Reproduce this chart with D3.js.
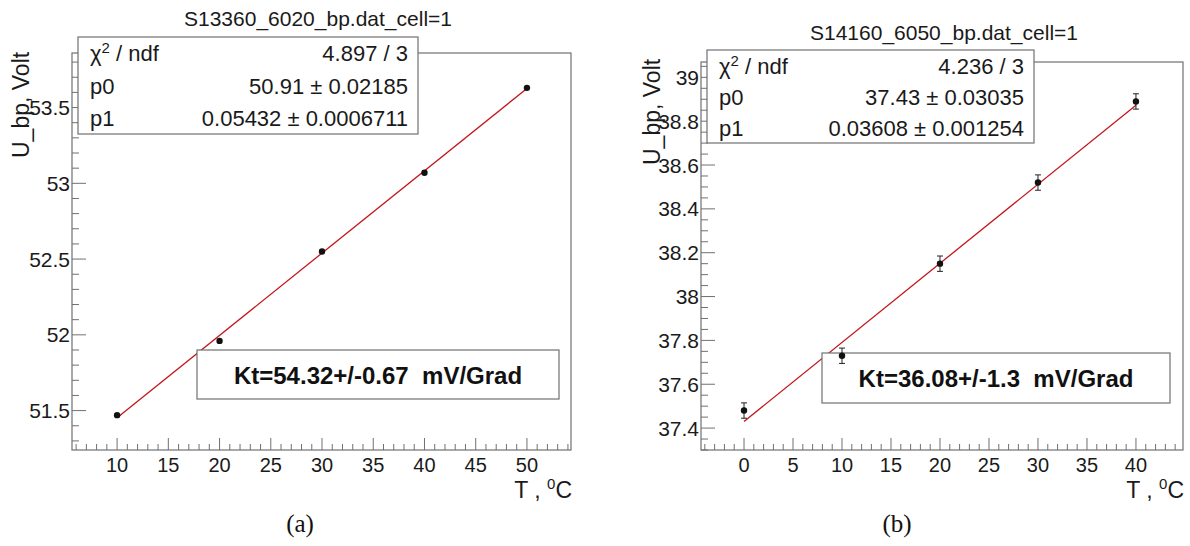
<!DOCTYPE html>
<html>
<head>
<meta charset="utf-8">
<script src="https://cdn.jsdelivr.net/npm/d3@7"></script>
<style>
  body { margin: 0; background: #fff; }
  svg { display: block; font-family: "Liberation Sans", Arial, sans-serif; }
</style>
</head>
<body>
<svg id="chart" width="1190" height="546"></svg>
<script>
// panel (a)
const titleA = "S13360_6020_bp.dat_cell=1"
const tempA = [10, 20, 30, 40, 50]
const voltA = [51.47, 51.96, 52.55, 53.07, 53.63]
const errA = [0.004, 0.004, 0.004, 0.004, 0.004]
const fitA = [50.91, 0.05432]
const statsA = [["χ", "4.897 / 3"], ["p0", "50.91 ± 0.02185"], ["p1", "0.05432 ± 0.0006711"]]
const ktA = "Kt=54.32+/-0.67  mV/Grad"
const xTicksA = [10, 15, 20, 25, 30, 35, 40, 45, 50]
const yTicksA = [51.5, 52, 52.5, 53, 53.5]

// panel (b)
const titleB = "S14160_6050_bp.dat_cell=1"
const tempB = [0, 10, 20, 30, 40]
const voltB = [37.48, 37.73, 38.15, 38.52, 38.89]
const errB = [0.035, 0.035, 0.035, 0.035, 0.035]
const fitB = [37.43, 0.03608]
const statsB = [["χ", "4.236 / 3"], ["p0", "37.43 ± 0.03035"], ["p1", "0.03608 ± 0.001254"]]
const ktB = "Kt=36.08+/-1.3  mV/Grad"
const xTicksB = [0, 5, 10, 15, 20, 25, 30, 35, 40]
const yTicksB = [37.4, 37.6, 37.8, 38, 38.2, 38.4, 38.6, 38.8, 39]

const svg = d3.select("#chart")
const axisColor = "#707070"
const textColor = "#1a1a1a"

function drawPanel(o) {
  const g = svg.append("g")
  const x = d3.scaleLinear().domain(o.xDomain).range([o.left, o.right])
  const y = d3.scaleLinear().domain(o.yDomain).range([o.bottom, o.top])

  // frame
  g.append("rect")
    .attr("x", o.left).attr("y", o.top)
    .attr("width", o.right - o.left).attr("height", o.bottom - o.top)
    .attr("fill", "none").attr("stroke", axisColor).attr("stroke-width", 1.2)

  // x ticks, drawn upward inside the frame
  const xMinor = d3.range(Math.ceil(o.xDomain[0]), o.xDomain[1], o.xMinor)
  g.selectAll(".xminor").data(xMinor).join("line")
    .attr("x1", d => x(d)).attr("x2", d => x(d))
    .attr("y1", o.bottom).attr("y2", d => o.bottom - (o.xTicks.includes(d) ? 12 : 6))
    .attr("stroke", axisColor)
  g.selectAll(".xlab").data(o.xTicks).join("text")
    .attr("x", d => x(d)).attr("y", o.bottom + 22)
    .attr("text-anchor", "middle").attr("font-size", 20).attr("fill", textColor)
    .text(d => d)

  // y ticks
  const yStart = Math.ceil(o.yDomain[0] / o.yMinor) * o.yMinor
  const yMinor = d3.range(0, Math.floor((o.yDomain[1] - yStart) / o.yMinor + 1e-6) + 1)
    .map(i => +(yStart + i * o.yMinor).toFixed(3))
  g.selectAll(".yminor").data(yMinor).join("line")
    .attr("x1", o.left).attr("x2", d => o.left + (o.yTicks.some(t => Math.abs(t - d) < 1e-6) ? 14 : 7))
    .attr("y1", d => y(d)).attr("y2", d => y(d))
    .attr("stroke", axisColor)
  g.selectAll(".ylab").data(o.yTicks).join("text")
    .attr("x", o.left - 2).attr("y", d => y(d) + 7.5)
    .attr("text-anchor", "end").attr("font-size", 21).attr("fill", textColor)
    .text(d => d)

  // axis titles
  const xt = g.append("text")
    .attr("x", o.right + 1).attr("y", o.bottom + 48)
    .attr("text-anchor", "end").attr("font-size", 23).attr("fill", textColor)
  xt.append("tspan").text("T ,  ")
  xt.append("tspan").attr("dy", -9).attr("font-size", 15).text("0")
  xt.append("tspan").attr("dy", 9).text("C")

  g.append("text")
    .attr("transform", `translate(${o.yTitleX},${o.yTitleStart}) rotate(-90)`)
    .attr("font-size", 23).attr("fill", textColor)
    .text("U_bp, Volt")

  // title
  g.append("text")
    .attr("x", o.titleX).attr("y", o.titleY)
    .attr("text-anchor", "middle").attr("font-size", 21).attr("fill", textColor)
    .text(o.title)

  // fit line
  const t0 = o.temp[0], t1 = o.temp[o.temp.length - 1]
  g.append("line")
    .attr("x1", x(t0)).attr("y1", y(o.fit[0] + o.fit[1] * t0))
    .attr("x2", x(t1)).attr("y2", y(o.fit[0] + o.fit[1] * t1))
    .attr("stroke", "#c3161c").attr("stroke-width", 1.3)

  // Kt box (under the points)
  const kb = o.ktBox
  g.append("rect")
    .attr("x", kb[0]).attr("y", kb[1]).attr("width", kb[2] - kb[0]).attr("height", kb[3] - kb[1])
    .attr("fill", "#fff").attr("stroke", axisColor).attr("stroke-width", 1.2)
  g.append("text")
    .attr("x", (kb[0] + kb[2]) / 2).attr("y", (kb[1] + kb[3]) / 2 + 9)
    .attr("text-anchor", "middle").attr("font-size", 24).attr("font-weight", "bold").attr("fill", "#111")
    .style("white-space", "pre")
    .text(o.kt)

  // points with error bars
  const pts = o.temp.map((t, i) => ({t: t, v: o.volt[i], e: o.err[i]}))
  const pg = g.selectAll(".pt").data(pts).join("g")
  pg.append("line")
    .attr("x1", d => x(d.t)).attr("x2", d => x(d.t))
    .attr("y1", d => y(d.v - d.e)).attr("y2", d => y(d.v + d.e))
    .attr("stroke", "#222")
  pg.filter(d => y(d.v - d.e) - y(d.v + d.e) > 6).each(function(d) {
    const s = d3.select(this)
    ;[d.v - d.e, d.v + d.e].forEach(v => {
      s.append("line").attr("x1", x(d.t) - 3).attr("x2", x(d.t) + 3)
        .attr("y1", y(v)).attr("y2", y(v)).attr("stroke", "#222")
    })
  })
  pg.append("circle")
    .attr("cx", d => x(d.t)).attr("cy", d => y(d.v)).attr("r", 3.2)
    .attr("fill", "#111")

  // stats box
  const sb = o.statsBox
  g.append("rect")
    .attr("x", sb[0]).attr("y", sb[1]).attr("width", sb[2] - sb[0]).attr("height", sb[3] - sb[1])
    .attr("fill", "#fff").attr("stroke", axisColor).attr("stroke-width", 1.2)
  const rowH = (sb[3] - sb[1]) / 3
  o.stats.forEach((row, i) => {
    const cy = sb[1] + rowH * (i + 0.5) + 8
    const lt = g.append("text").attr("x", sb[0] + 12).attr("y", cy)
      .attr("font-size", 22).attr("fill", textColor)
    if (row[0] === "χ") {
      lt.append("tspan").text("χ")
      lt.append("tspan").attr("dy", -8).attr("font-size", 15).text("2")
      lt.append("tspan").attr("dy", 8).text(" / ndf")
    } else {
      lt.text(row[0])
    }
    g.append("text").attr("x", sb[2] - 10).attr("y", cy)
      .attr("text-anchor", "end").attr("font-size", 22).attr("fill", textColor)
      .text(row[1])
  })

  // caption
  g.append("text")
    .attr("x", o.capX).attr("y", 532)
    .attr("text-anchor", "middle").attr("font-size", 25)
    .attr("font-family", "'Liberation Serif', 'Times New Roman', serif").attr("fill", "#111")
    .text(o.caption)
}

drawPanel({
  left: 72, right: 571, top: 53, bottom: 450,
  xDomain: [5.6, 54.3], yDomain: [51.24, 53.86],
  xTicks: xTicksA, yTicks: yTicksA, xMinor: 1, yMinor: 0.1,
  temp: tempA, volt: voltA, err: errA, fit: fitA,
  stats: statsA, statsBox: [78, 37, 418, 134],
  kt: ktA, ktBox: [197, 350, 559, 399],
  title: titleA, titleX: 318, titleY: 26,
  yTitleX: 29, yTitleStart: 158,
  caption: "(a)", capX: 300
})

drawPanel({
  left: 701, right: 1183, top: 62, bottom: 450,
  xDomain: [-4.39, 44.8], yDomain: [37.3, 39.07],
  xTicks: xTicksB, yTicks: yTicksB, xMinor: 1, yMinor: 0.05,
  temp: tempB, volt: voltB, err: errB, fit: fitB,
  stats: statsB, statsBox: [707, 50, 1034, 143],
  kt: ktB, ktBox: [822, 353, 1170, 403],
  title: titleB, titleX: 944, titleY: 40,
  yTitleX: 660, yTitleStart: 165,
  caption: "(b)", capX: 897
})
</script>
</body>
</html>
